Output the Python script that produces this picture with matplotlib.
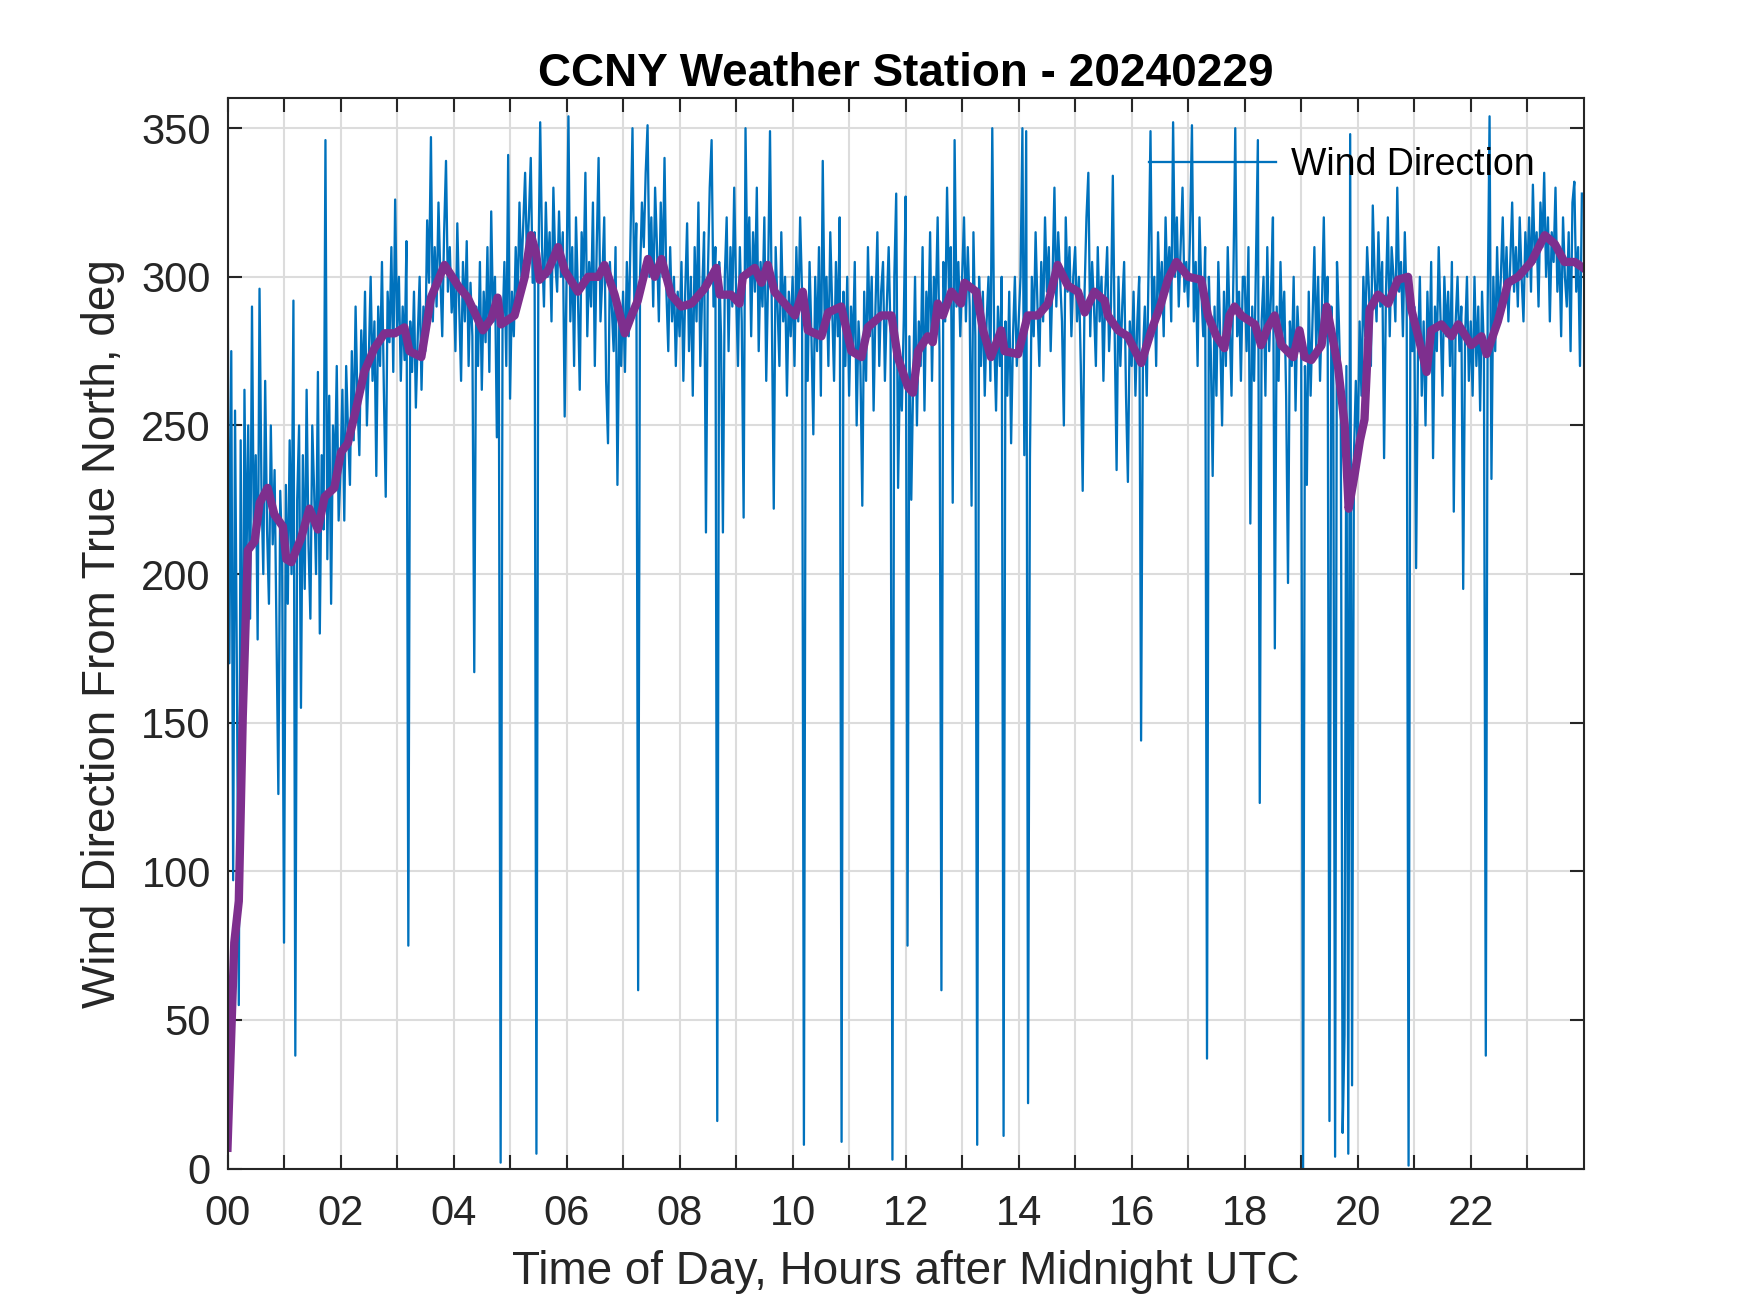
import matplotlib
matplotlib.use('Agg')
import matplotlib.pyplot as plt
import numpy as np

# wind direction, one sample every 2 minutes, one row per hour (deg from true north)
wind_dir = [
    310, 170, 275, 97, 255, 165, 55, 245, 120, 262, 200, 250, 185, 290, 210, 240, 178, 296, 230, 200, 265, 215, 190, 250, 210, 235, 180, 126, 228, 205,
    76, 230, 190, 245, 200, 292, 38, 225, 250, 155, 240, 195, 262, 210, 185, 250, 228, 200, 268, 180, 240, 215, 346, 205, 260, 190, 250, 232, 270, 218,
    235, 262, 218, 270, 248, 230, 275, 245, 290, 258, 240, 282, 262, 295, 250, 272, 300, 265, 285, 233, 290, 270, 305, 262, 226, 295, 278, 310, 268, 326,
    282, 300, 265, 290, 272, 312, 75, 285, 268, 295, 256, 280, 300, 262, 290, 275, 319, 298, 347, 285, 310, 290, 325, 300, 280, 315, 339, 295, 310, 288,
    300, 275, 318, 290, 265, 305, 285, 312, 270, 298, 280, 167, 290, 270, 305, 262, 295, 278, 310, 268, 322, 285, 300, 246, 290, 2, 282, 305, 270, 341,
    259, 295, 280, 310, 290, 325, 300, 318, 335, 305, 320, 340, 298, 315, 5, 300, 352, 310, 290, 325, 300, 315, 285, 330, 305, 295, 322, 300, 315, 253,
    300, 354, 285, 310, 270, 320, 295, 262, 315, 300, 335, 280, 305, 290, 325, 270, 310, 340, 285, 300, 320, 265, 244, 305, 290, 275, 310, 230, 285, 270,
    295, 268, 305, 280, 315, 350, 290, 318, 60, 300, 325, 310, 335, 351, 300, 320, 290, 330, 310, 285, 325, 300, 340, 295, 275, 310, 285, 300, 270, 295,
    280, 305, 265, 295, 318, 275, 300, 260, 310, 285, 325, 270, 295, 315, 214, 300, 330, 346, 290, 310, 16, 305, 280, 214, 300, 320, 275, 310, 290, 330,
    295, 270, 310, 285, 219, 350, 300, 320, 280, 315, 295, 330, 275, 305, 290, 320, 265, 300, 349, 285, 222, 310, 290, 270, 315, 285, 300, 260, 295, 280,
    300, 270, 310, 285, 320, 295, 8, 290, 265, 305, 280, 247, 300, 275, 310, 260, 339, 285, 300, 270, 315, 290, 265, 305, 280, 320, 9, 295, 270, 300,
    260, 290, 275, 305, 250, 285, 270, 223, 295, 265, 310, 280, 300, 255, 290, 315, 270, 295, 305, 265, 290, 310, 280, 3, 300, 328, 229, 270, 255, 285,
    327, 75, 280, 225, 265, 300, 250, 285, 270, 310, 255, 295, 280, 315, 265, 300, 290, 320, 275, 60, 305, 285, 330, 295, 310, 224, 346, 290, 305, 280,
    300, 320, 285, 310, 290, 223, 315, 280, 8, 300, 270, 295, 260, 285, 300, 265, 350, 280, 255, 290, 270, 300, 11, 285, 260, 295, 244, 280, 300, 270,
    285, 300, 350, 240, 349, 22, 239, 300, 280, 315, 290, 270, 305, 285, 320, 295, 310, 275, 300, 330, 290, 315, 300, 285, 250, 320, 295, 310, 280, 300,
    310, 285, 300, 270, 228, 295, 320, 335, 280, 305, 290, 270, 310, 285, 300, 265, 295, 310, 275, 290, 334, 280, 235, 300, 270, 290, 305, 260, 231, 285,
    270, 295, 260, 285, 300, 144, 275, 290, 260, 305, 349, 280, 300, 270, 315, 290, 305, 280, 320, 295, 310, 285, 352, 300, 320, 290, 310, 330, 295, 305,
    290, 315, 351, 285, 305, 270, 320, 295, 280, 310, 37, 300, 275, 233, 290, 260, 305, 280, 250, 295, 270, 310, 285, 260, 300, 350, 280, 295, 265, 300,
    300, 275, 310, 217, 290, 265, 305, 346, 123, 285, 300, 260, 310, 275, 295, 320, 175, 290, 265, 305, 280, 295, 260, 197, 285, 270, 300, 255, 290, 275,
    280, 0, 270, 230, 295, 260, 285, 310, 275, 300, 265, 290, 320, 280, 300, 16, 290, 270, 4, 305, 285, 260, 12, 45, 270, 5, 348, 28, 240, 265,
    240, 285, 260, 300, 280, 310, 295, 270, 324, 300, 285, 315, 290, 305, 239, 295, 320, 280, 310, 300, 285, 330, 295, 305, 280, 315, 290, 1, 300, 275,
    290, 202, 275, 300, 260, 285, 250, 295, 270, 305, 239, 290, 275, 310, 285, 260, 300, 280, 295, 270, 305, 221, 285, 300, 275, 290, 195, 280, 300, 265,
    285, 260, 300, 270, 290, 255, 295, 275, 38, 290, 354, 232, 300, 275, 310, 285, 300, 320, 290, 310, 285, 305, 325, 295, 310, 290, 320, 300, 285, 315,
    300, 320, 295, 331, 305, 315, 290, 325, 310, 335, 300, 320, 285, 315, 305, 330, 295, 310, 280, 320, 300, 290, 315, 275, 325, 332, 295, 310, 270, 328,
]

# running average (purple trace)
avg_hours = [0.00, 0.12, 0.20, 0.27, 0.36, 0.48, 0.57, 0.71, 0.83, 0.98,
             1.04, 1.13, 1.30, 1.45, 1.60, 1.72, 1.89, 2.01, 2.13, 2.28,
             2.42, 2.60, 2.78, 2.96, 3.13, 3.22, 3.43, 3.60, 3.84, 4.08,
             4.25, 4.52, 4.67, 4.78, 4.84, 5.08, 5.26, 5.37, 5.46, 5.52,
             5.67, 5.85, 5.97, 6.20, 6.38, 6.56, 6.67, 6.85, 7.03, 7.15,
             7.26, 7.44, 7.56, 7.68, 7.85, 8.03, 8.21, 8.44, 8.65, 8.71,
             8.91, 9.06, 9.12, 9.33, 9.45, 9.56, 9.68, 9.86, 10.04, 10.18,
             10.27, 10.51, 10.63, 10.86, 11.04, 11.22, 11.33, 11.57, 11.75, 11.86,
             12.04, 12.13, 12.22, 12.39, 12.48, 12.57, 12.66, 12.81, 12.98, 13.04,
             13.25, 13.37, 13.51, 13.69, 13.75, 13.99, 14.16, 14.34, 14.52, 14.69,
             14.87, 15.05, 15.17, 15.34, 15.52, 15.58, 15.76, 15.93, 16.17, 16.35,
             16.52, 16.64, 16.79, 17.00, 17.23, 17.35, 17.50, 17.64, 17.73, 17.82,
             17.94, 18.18, 18.29, 18.41, 18.53, 18.65, 18.86, 18.97, 19.06, 19.18,
             19.36, 19.45, 19.53, 19.65, 19.77, 19.84, 19.95, 20.04, 20.12, 20.21,
             20.36, 20.54, 20.71, 20.89, 20.95, 21.07, 21.22, 21.30, 21.48, 21.66,
             21.78, 22.01, 22.19, 22.28, 22.48, 22.66, 22.84, 23.07, 23.31, 23.49,
             23.66, 23.84, 23.99]
avg_dir = [7, 76, 90, 152, 208, 211, 224, 229, 220, 216,
           205, 204, 212, 222, 215, 226, 229, 241, 244, 256,
           268, 276, 281, 281, 283, 275, 273, 293, 304, 297,
           293, 282, 286, 293, 284, 287, 300, 314, 308, 299,
           302, 310, 302, 295, 300, 300, 304, 294, 281, 287,
           292, 306, 300, 306, 294, 290, 291, 296, 303, 294,
           294, 291, 300, 303, 298, 304, 295, 291, 287, 295,
           282, 280, 288, 290, 275, 273, 283, 287, 287, 273,
           263, 261, 275, 280, 278, 291, 287, 295, 291, 298,
           295, 282, 273, 282, 275, 274, 287, 287, 291, 304,
           297, 295, 288, 295, 292, 287, 282, 280, 271, 282,
           291, 299, 305, 300, 299, 287, 280, 276, 287, 290,
           287, 284, 277, 283, 287, 277, 273, 282, 273, 272,
           277, 290, 282, 270, 250, 222, 234, 245, 252, 289,
           294, 291, 299, 300, 289, 280, 268, 282, 284, 280,
           284, 277, 280, 274, 285, 298, 300, 305, 314, 311,
           305, 305, 303]

x_ticks = list(range(24))
x_tick_labels = ['%02d' % h if h % 2 == 0 else '' for h in x_ticks]
y_ticks = [0, 50, 100, 150, 200, 250, 300, 350]

time_h = np.arange(len(wind_dir)) * 2.0 / 60.0

plt.rcParams['font.family'] = ['Liberation Sans', 'DejaVu Sans']
axis_grey = '#262626'

fig = plt.figure(figsize=(1750 / 300, 1313 / 300), dpi=300)
ax = fig.add_axes([0.13, 0.11, 0.775, 0.815])

ax.plot(time_h, wind_dir, color='#0072BD', lw=0.55, label='Wind Direction')
ax.plot(avg_hours, avg_dir, color='#7E2F8E', lw=2)

ax.set_xlim(0, 24)
ax.set_ylim(0, 360)
ax.set_xticks(x_ticks)
ax.set_xticklabels(x_tick_labels)
ax.set_yticks(y_ticks)
ax.tick_params(direction='in', top=True, right=True, length=3.3, width=0.5,
               labelsize=10, colors=axis_grey, pad=4)
ax.tick_params(axis='x', pad=6)
ax.grid(True, color='#dcdcdc', lw=0.5)
ax.set_axisbelow(True)
for sp in ax.spines.values():
    sp.set_color(axis_grey)
    sp.set_linewidth(0.5)

ax.set_title('CCNY Weather Station - 20240229', fontsize=11, fontweight='bold', pad=3)
ax.set_xlabel('Time of Day, Hours after Midnight UTC', fontsize=11, color=axis_grey)
ax.set_ylabel('Wind Direction From True North, deg', fontsize=11, color=axis_grey)

leg = ax.legend(loc='upper right', frameon=False, fontsize=9, handlelength=3.4,
                handletextpad=0.4, borderaxespad=0.9)

fig.savefig('out.png', dpi=300)
